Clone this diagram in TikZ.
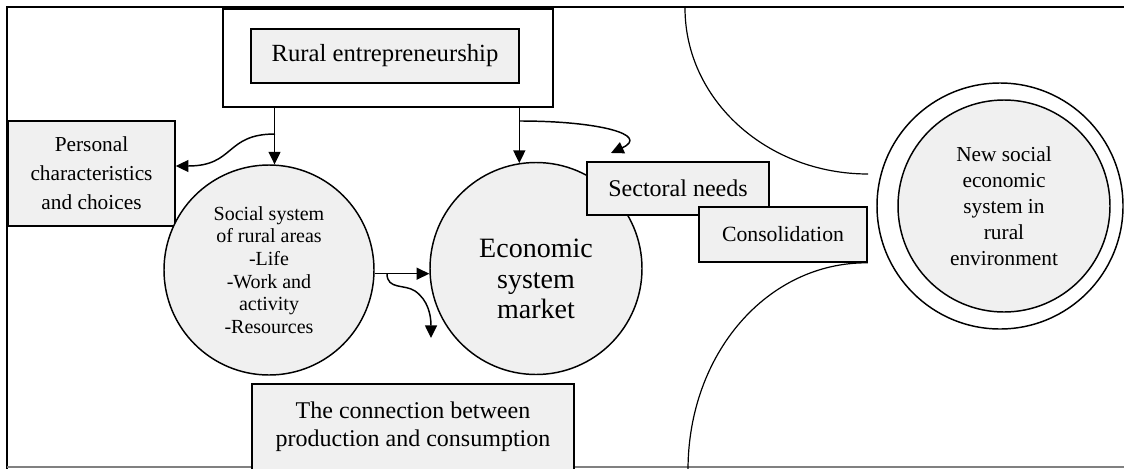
\documentclass[tikz,border=0pt]{standalone}
\usepackage{fontspec}
\setmainfont{Liberation Serif}
\usetikzlibrary{arrows.meta,calc}
\definecolor{boxfill}{HTML}{F0F0F0}
\begin{document}
\begin{tikzpicture}[x=0.75pt,y=-0.75pt,
  boxn/.style={draw=black, line width=1.2pt, fill=boxfill, inner sep=0pt, align=center},
  circn/.style={draw=black, line width=1.1pt, fill=boxfill, circle, inner sep=0pt, align=center},
  arr/.style={line width=1.1pt, -{Triangle[length=9.5pt,width=9pt]}},
  arcline/.style={line width=0.9pt}]
\useasboundingbox (0,0) rectangle (1124,468);
\clip (0,0) rectangle (1124,468);
% frame
\draw[line width=1.2pt] (7,470) -- (7,7) -- (1130,7);
\draw[line width=1.2pt, gray] (7,467) -- (1130,467);
% nodes
\node[draw=black, line width=1.2pt, fill=white, minimum width=247.5pt, minimum height=73.5pt, inner sep=0pt] (top) at (388,58) {};
\node[boxn, minimum width=201pt, minimum height=40.5pt, font=\fontsize{18.5}{22}\selectfont] (rural) at (385,56) {Rural entrepreneurship};
\node[boxn, minimum width=125.25pt, minimum height=78.75pt, font=\fontsize{16}{21.75}\selectfont] (pers) at (91.5,173.5) {Personal\\characteristics\\and choices};
\node[circn, minimum size=157.5pt, font=\fontsize{15}{17}\selectfont] (soc) at (269,270) {Social system\\of rural areas\\-Life\\-Work and\\activity\\-Resources};
\node[circn, minimum size=159pt] (eco) at (536,268.5) {};
\node[font=\fontsize{21}{23}\selectfont, align=center] (ecot) at (536,279) {Economic\\system\\market};
\node[boxn, minimum width=136.5pt, minimum height=39.75pt, font=\fontsize{18}{22}\selectfont] (sect) at (678,188.5) {Sectoral needs};
\node[boxn, minimum width=126pt, minimum height=41.25pt, font=\fontsize{16.3}{20}\selectfont] (cons) at (783,234.5) {Consolidation};
\node[boxn, minimum width=241.5pt, minimum height=64.5pt, font=\fontsize{18}{21}\selectfont] (conn) at (413,427) {The connection between\\production and consumption};
\node[circle, draw=black, line width=1.1pt, fill=white, minimum size=184.5pt, inner sep=0pt] (outer) at (1000,206) {};
\node[circn, minimum size=159pt, font=\fontsize{16}{19.5}\selectfont] (newsys) at (1004,206) {New social\\economic\\system in\\rural\\environment};
% arcs
\draw[arcline] (685,8) .. controls (685,100) and (767,174) .. (868,174);
\draw[arcline] (cons.south east) .. controls (767,262) and (688,354) .. (688,470);
% arrows
\draw[arr] (top.south -| soc.87) -- (soc.87);
\draw[arr] (top.south -| eco.99) -- (eco.99);
\coordinate (b1) at (275,134);
\draw[arr] (b1) .. controls (225,134) and (235,166) .. ($(pers.east)+(0,-7.5)$);
\coordinate (b2) at (519.4,121);
\coordinate (c2) at (611,153);
\draw[arr] (b2) .. controls (600,121) and (650,135) .. (c2);
\draw[arr] (soc.-2) -- (soc.-2 -| eco.west);
\coordinate (b3) at (387,273.7);
\coordinate (c3) at (431,338);
\draw[arr] (b3) .. controls (387,290) and (405,284) .. (415,291) .. controls (428,300) and (431,315) .. (c3);
\end{tikzpicture}
\end{document}
